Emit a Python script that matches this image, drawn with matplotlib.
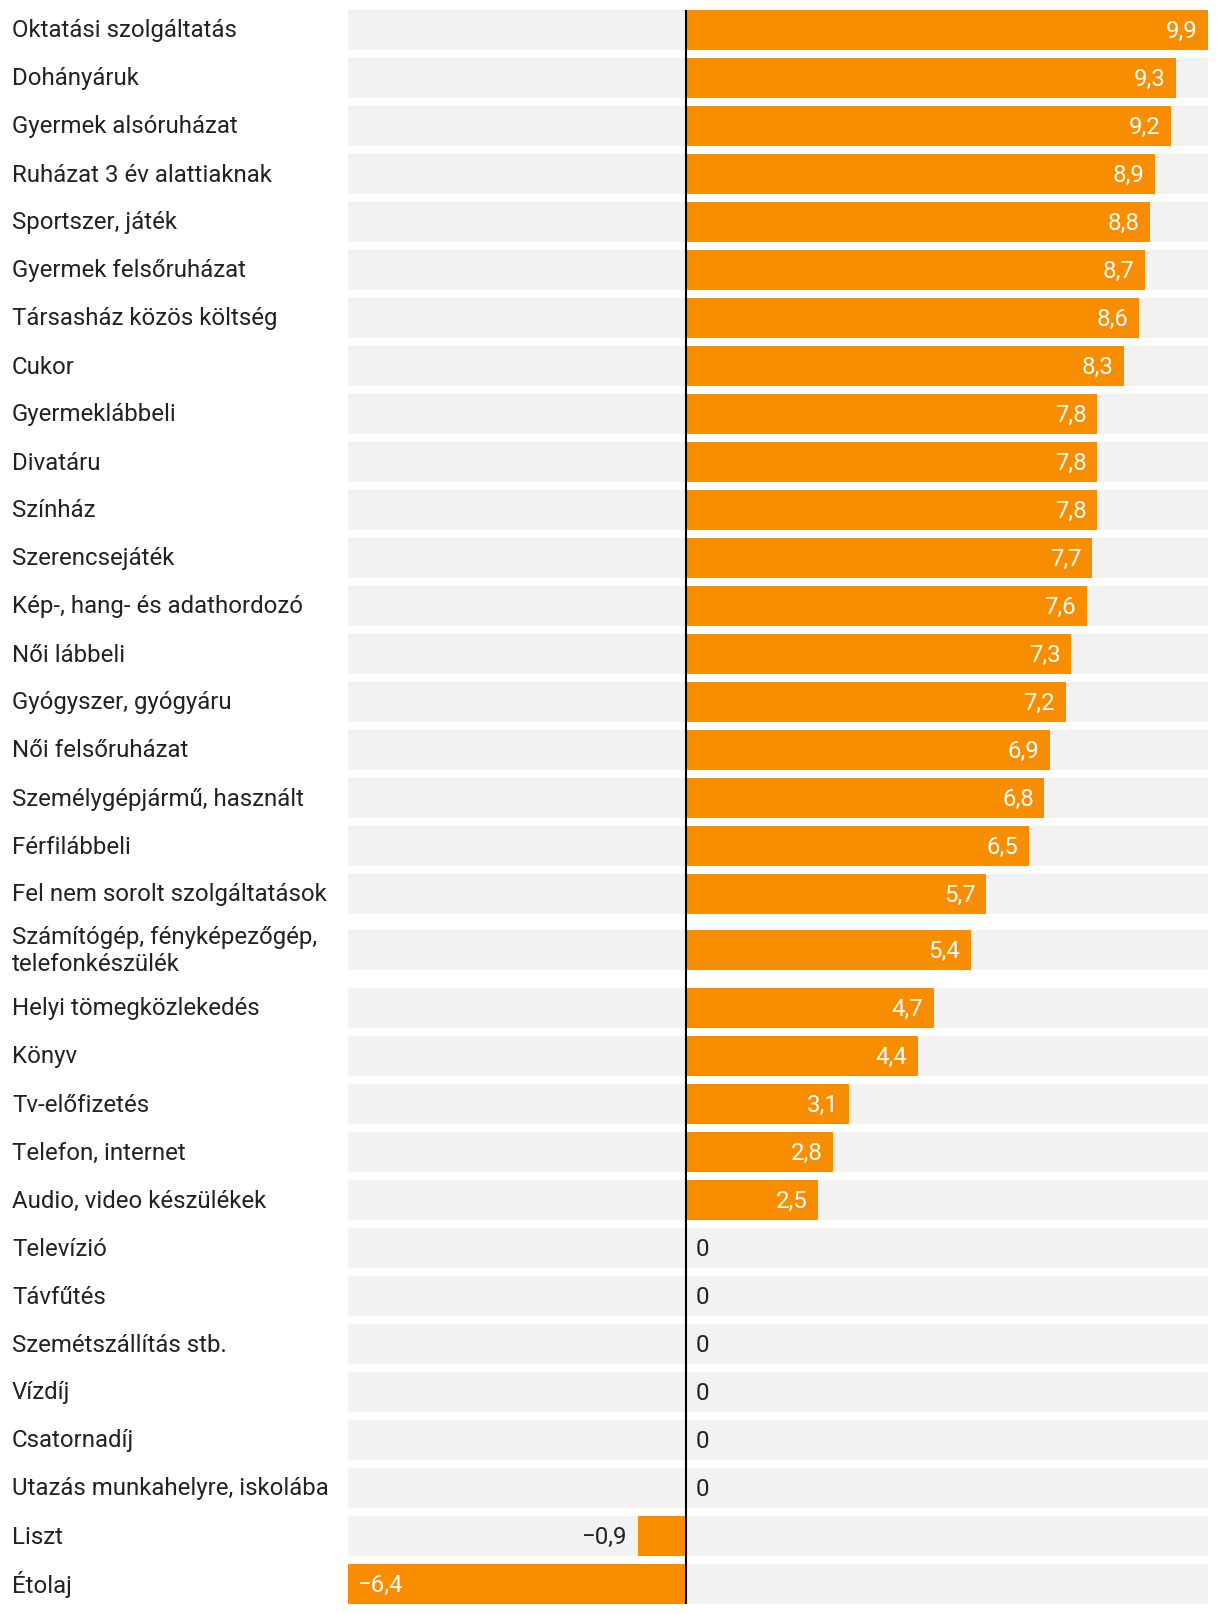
import matplotlib.pyplot as plt
from matplotlib.transforms import offset_copy

plt.rcParams['font.family'] = ['Roboto', 'DejaVu Sans']

# Data
categories = [
    'Oktatási szolgáltatás', 'Dohányáruk', 'Gyermek alsóruházat',
    'Ruházat 3 év alattiaknak', 'Sportszer, játék', 'Gyermek felsőruházat',
    'Társasház közös költség', 'Cukor', 'Gyermeklábbeli', 'Divatáru',
    'Színház', 'Szerencsejáték', 'Kép-, hang- és adathordozó', 'Női lábbeli',
    'Gyógyszer, gyógyáru', 'Női felsőruházat', 'Személygépjármű, használt',
    'Férfilábbeli', 'Fel nem sorolt szolgáltatások',
    'Számítógép, fényképezőgép,\ntelefonkészülék',
    'Helyi tömegközlekedés', 'Könyv', 'Tv-előfizetés', 'Telefon, internet',
    'Audio, video készülékek', 'Televízió', 'Távfűtés',
    'Szemétszállítás stb.', 'Vízdíj', 'Csatornadíj',
    'Utazás munkahelyre, iskolába', 'Liszt', 'Étolaj',
]
values = [9.9, 9.3, 9.2, 8.9, 8.8, 8.7, 8.6, 8.3, 7.8, 7.8, 7.8, 7.7, 7.6,
          7.3, 7.2, 6.9, 6.8, 6.5, 5.7, 5.4, 4.7, 4.4, 3.1, 2.8, 2.5,
          0, 0, 0, 0, 0, 0, -0.9, -6.4]

W, H = 1220, 1614
fig = plt.figure(figsize=(W / 100, H / 100), dpi=100)
ax = fig.add_axes([348 / W, 10 / H, 860 / W, 1594 / H])

xmin, xmax = -6.4, 9.9
bar_h = 40

# row centers (pixel units from the top), taller row for two-line labels
centers = []
y = 10
for i, c in enumerate(categories):
    if '\n' in c:
        y += 8
    centers.append(y + bar_h / 2)
    y += 48
    if '\n' in c:
        y += 10

orange = '#f98d00'
ax.barh(centers, [xmax - xmin] * len(values), left=xmin, height=bar_h,
        color='#f2f2f2', zorder=1)
ax.barh(centers, values, height=bar_h, color=orange, zorder=2)
ax.axvline(0, color='black', lw=1.5, zorder=3)

fs = 17.3
dy = -0.8  # nudge text slightly down
for c, v, yc in zip(categories, values, centers):
    fig.text(12 / W, 1 - (yc + 1) / H, c, ha='left', va='center', fontsize=fs,
             color='#222222', linespacing=1.2)
    txt = f'{abs(v):.1f}'.replace('.', ',')
    if v < 0:
        txt = '\u2212' + txt
    if v == 0:
        tr = offset_copy(ax.transData, fig=fig, x=7.5, y=dy, units='points')
        ax.text(0, yc, '0', ha='left', va='center', fontsize=fs,
                color='#222222', transform=tr, zorder=4)
    elif v > 0:
        tr = offset_copy(ax.transData, fig=fig, x=-7.5, y=dy, units='points')
        ax.text(v, yc, txt, ha='right', va='center', fontsize=fs,
                color='white', transform=tr, zorder=4)
    elif v > -1.5:
        tr = offset_copy(ax.transData, fig=fig, x=-8.5, y=dy, units='points')
        ax.text(v, yc, txt, ha='right', va='center', fontsize=fs,
                color='#222222', transform=tr, zorder=4)
    else:
        tr = offset_copy(ax.transData, fig=fig, x=6.5, y=dy, units='points')
        ax.text(v, yc, txt, ha='left', va='center', fontsize=fs,
                color='white', transform=tr, zorder=4)

ax.set_xlim(xmin, xmax)
ax.set_ylim(1604, 10)
ax.axis('off')

plt.savefig('out.png', dpi=100)
